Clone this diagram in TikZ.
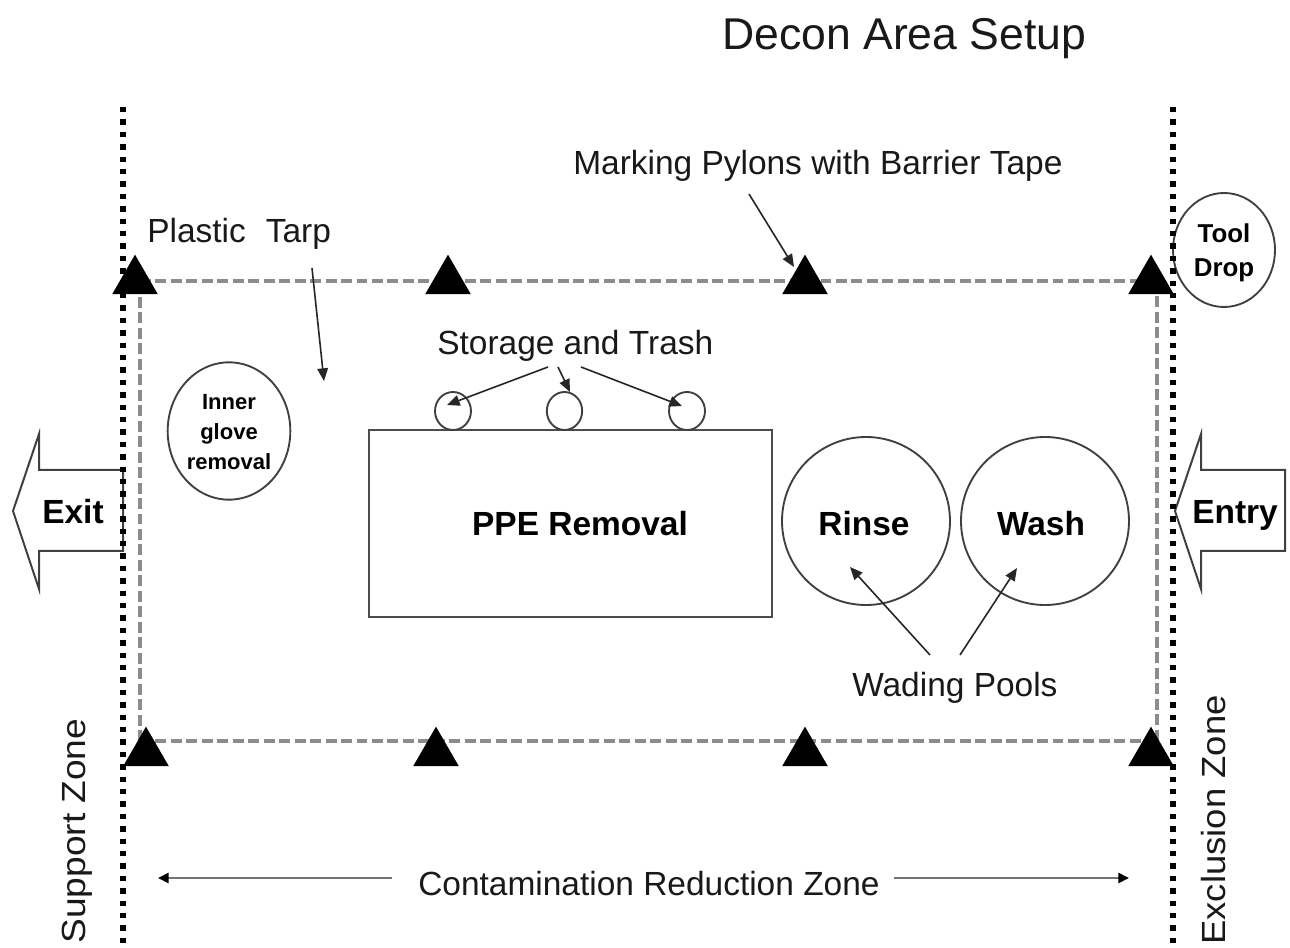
\documentclass[tikz,border=0pt]{standalone}
\usepackage{fontspec}
\setmainfont{Liberation Sans}
\usetikzlibrary{arrows.meta,shapes.geometric}
\tikzset{
  lbl/.style={anchor=base west,inner sep=0pt,text=black!90},
  bigfont/.style={font=\fontsize{25.1pt}{30pt}\selectfont},
  boldlbl/.style={inner sep=0pt,font=\fontsize{25.1pt}{30pt}\selectfont\bfseries},
  pylon/.style={regular polygon,regular polygon sides=3,fill=black,draw=none,minimum size=39.5pt,inner sep=0pt},
  ringshape/.style={ellipse,draw=black!75,line width=1.4pt,inner sep=0pt},
  tape/.style={draw=black!45,line width=2.3pt,dash pattern=on 8.2pt off 3.4pt},
  zoneline/.style={draw=black,line width=4pt,dash pattern=on 4pt off 5.3pt},
  pointer/.style={draw=black!85,line width=1.2pt,-{Triangle[length=9.5pt,width=8pt]}},
  span/.style={draw=black!55,line width=2pt,-{Triangle[length=8pt,width=7.5pt,color=black]}},
  outline/.style={draw=black!75,line width=1.5pt,fill=white,line join=miter}
}
\begin{document}
\begin{tikzpicture}[x=0.75pt,y=-0.75pt]
\useasboundingbox[fill=white] (0,0) rectangle (1290,948);

% corners of tarp
\coordinate (tl) at (140,281); \coordinate (tr) at (1157,281);
\coordinate (bl) at (140,741); \coordinate (br) at (1157,741);
\draw[tape] (bl) -- (tl);
\draw[tape] (tl) -- (tr);
\draw[tape] (tr) -- (br);
\draw[tape] (bl) -- (br);

% pylons
\node[pylon] (p1) at (135,281) {};
\node[pylon] (p2) at (448,281) {};
\node[pylon] (p3) at (805,281) {};
\node[pylon] (p4) at (1151,281) {};
\node[pylon] (q1) at (146,753) {};
\node[pylon] (q2) at (436,753) {};
\node[pylon] (q3) at (805,753) {};
\node[pylon] (q4) at (1151,753) {};

% big arrows
\draw[outline] (13,511) -- (39,434) -- (39,470) -- (123,470) -- (123,551) -- (39,551) -- (39,589) -- cycle;
\draw[outline] (1175,511) -- (1201,434) -- (1201,470) -- (1285,470) -- (1285,551) -- (1201,551) -- (1201,589) -- cycle;
\node[boldlbl,anchor=base west] (exit) at (42,524) {Exit};
\node[boldlbl,anchor=base west] (entry) at (1192,524) {Entry};

% stations
\node[ringshape,minimum width=92pt,minimum height=103pt] (glove) at (229,431) {};
\node[inner sep=0pt,align=center,font=\fontsize{16.5pt}{22.5pt}\selectfont\bfseries] (glovetxt) at (229,432) {Inner\\glove\\removal};
\node[ringshape,minimum width=76.5pt,minimum height=85.5pt] (tool) at (1224,250) {};
\node[inner sep=0pt,align=center,font=\fontsize{19.4pt}{25.5pt}\selectfont\bfseries] (tooltxt) at (1224,253) {Tool\\Drop};
\node[ringshape,circle,minimum size=126pt] (rinse) at (866,521) {};
\node[ringshape,circle,minimum size=126pt] (wash) at (1045,521) {};
\node[boldlbl,anchor=base] at (864,536) {Rinse};
\node[boldlbl,anchor=base] at (1041,536) {Wash};
\node[draw=black!70,line width=1.5pt,minimum width=302pt,minimum height=140pt,inner sep=0pt] (ppe) at (570.5,523.5) {};
\node[boldlbl,anchor=base] at (580,536) {PPE Removal};
\node[ringshape,minimum width=27pt,minimum height=28.5pt] (s1) at (453,411) {};
\node[ringshape,minimum width=26.5pt,minimum height=28.5pt] (s2) at (564.5,411) {};
\node[ringshape,minimum width=27pt,minimum height=28.5pt] (s3) at (687,411) {};

% zone lines
\draw[zoneline] (123,107) -- (123,948);
\draw[zoneline] (1173,107) -- (1173,948);

% text
\node[lbl,font=\fontsize{33.4pt}{40pt}\selectfont] (title) at (722,50) {Decon Area Setup};
\node[lbl,bigfont] (mark) at (573,175) {Marking Pylons with Barrier Tape};
\node[lbl,bigfont] (tarp) at (147,243) {Plastic\hspace{15pt}Tarp};
\node[lbl,bigfont] (store) at (437,355) {Storage and Trash};
\node[lbl,bigfont] (wade) at (852,696.5) {Wading Pools};
\node[lbl,bigfont] (crz) at (418,895.5) {Contamination Reduction Zone};
\node[lbl,bigfont,rotate=90] (sz) at (85,944) {\scalebox{1.11}[1]{Support Zone}};
\node[lbl,bigfont,rotate=90] (ez) at (1225,945) {\scalebox{1.09}[1]{Exclusion Zone}};

% pointer ends
\coordinate (a0) at (312,268); \coordinate (a1) at (324,381);
\coordinate (b0) at (749,194); \coordinate (b1) at (794,267);
\coordinate (c0) at (548,367); \coordinate (c1) at (447,405);
\coordinate (d0) at (558,367); \coordinate (d1) at (570,392);
\coordinate (e0) at (581,367); \coordinate (e1) at (682,406);
\coordinate (f0) at (930,655); \coordinate (f1) at (850,567);
\coordinate (g0) at (960,655); \coordinate (g1) at (1017,568);
\coordinate (h0) at (392,878); \coordinate (h1) at (158,878);
\coordinate (i0) at (894,878); \coordinate (i1) at (1129,878);
\draw[pointer] (a0) -- (a1);
\draw[pointer] (b0) -- (b1);
\draw[pointer] (c0) -- (c1);
\draw[pointer] (d0) -- (d1);
\draw[pointer] (e0) -- (e1);
\draw[pointer] (f0) -- (f1);
\draw[pointer] (g0) -- (g1);
\draw[span] (h0) -- (h1);
\draw[span] (i0) -- (i1);
\end{tikzpicture}
\end{document}
